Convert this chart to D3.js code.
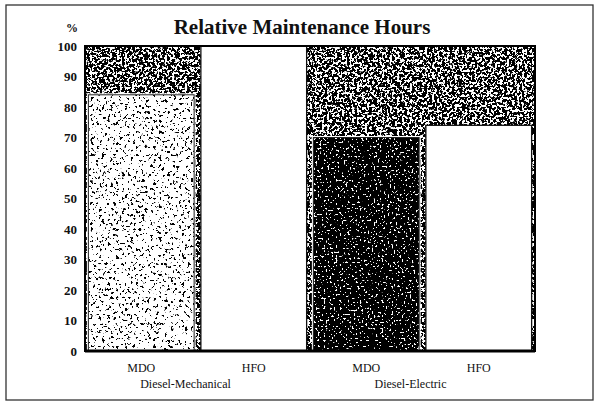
<!DOCTYPE html>
<html>
<head>
<meta charset="utf-8">
<script src="https://cdn.jsdelivr.net/npm/d3@7"></script>
<style>
  body { margin: 0; background: #fff; }
  text { font-family: "Liberation Serif", "DejaVu Serif", serif; fill: #111; }
</style>
</head>
<body>
<div id="chart"></div>
<script>
// chart values
const groups = ["Diesel-Mechanical", "Diesel-Electric"];
const fuels = ["MDO", "HFO"];
const reference = [100, 100];   // MDO reference level per group
const mdoValues = [84, 70];
const hfoValues = [100, 74];
const yTicks = [0, 10, 20, 30, 40, 50, 60, 70, 80, 90, 100];

const width = 600, height = 406;
const margin = { top: 46, right: 65, bottom: 55, left: 85 };

const svg = d3.select("#chart").append("svg")
    .attr("width", width)
    .attr("height", height);

// speckled fills made from noise, thresholded
const defs = svg.append("defs");
function makeStipple(id, threshold, freq, seed) {
    const f = defs.append("filter").attr("id", id)
        .attr("x", 0).attr("y", 0).attr("width", 1).attr("height", 1)
        .attr("filterUnits", "objectBoundingBox");
    f.append("feTurbulence").attr("type", "fractalNoise")
        .attr("baseFrequency", freq).attr("numOctaves", 3).attr("seed", seed).attr("result", "n");
    f.append("feColorMatrix").attr("in", "n").attr("type", "matrix")
        .attr("values", "0 0 0 0 0  0 0 0 0 0  0 0 0 0 0  1 0 0 0 0").attr("result", "a");
    const ct = f.append("feComponentTransfer").attr("in", "a").attr("result", "dots");
    ct.append("feFuncA").attr("type", "linear").attr("slope", 25).attr("intercept", -25 * threshold);
    f.append("feComposite").attr("in", "dots").attr("in2", "SourceAlpha").attr("operator", "in");
}
makeStipple("stipMid", 0.46, 0.4, 4);
makeStipple("stipLight", 0.62, 0.35, 7);
makeStipple("stipDark", 0.33, 0.5, 2);

const x0 = d3.scaleBand().domain(groups).range([margin.left, width - margin.right]).padding(0);
const x1 = d3.scaleBand().domain(fuels).range([0, x0.bandwidth()]).paddingInner(0.06).paddingOuter(0.03);
const y = d3.scaleLinear().domain([0, 100]).range([height - margin.bottom, margin.top]);

// outer frame
svg.append("rect")
    .attr("x", 6).attr("y", 5)
    .attr("width", width - 13).attr("height", height - 11)
    .attr("fill", "none").attr("stroke", "#333").attr("stroke-width", 1.3);

svg.append("text")
    .attr("x", 302).attr("y", 34)
    .attr("text-anchor", "middle")
    .attr("font-size", 21).attr("font-weight", "bold")
    .text("Relative Maintenance Hours");

svg.append("text")
    .attr("x", 72).attr("y", 32)
    .attr("text-anchor", "middle")
    .attr("font-size", 12).attr("font-weight", "bold")
    .text("%");

const g = svg.selectAll("g.group").data(groups).enter().append("g")
    .attr("class", "group")
    .attr("transform", d => `translate(${x0(d)},0)`);

// reference column (100 %)
g.append("rect")
    .attr("x", 0)
    .attr("y", (d, i) => y(reference[i]))
    .attr("width", x0.bandwidth())
    .attr("height", (d, i) => y(0) - y(reference[i]))
    .attr("fill", "#fff");
g.append("rect")
    .attr("x", 0)
    .attr("y", (d, i) => y(reference[i]))
    .attr("width", x0.bandwidth())
    .attr("height", (d, i) => y(0) - y(reference[i]))
    .attr("fill", "#000")
    .attr("filter", "url(#stipMid)");

// MDO bars
const mdoFill = ["stipLight", "stipDark"];
g.append("rect")
    .attr("x", x1("MDO"))
    .attr("y", (d, i) => y(mdoValues[i]))
    .attr("width", x1.bandwidth())
    .attr("height", (d, i) => y(0) - y(mdoValues[i]))
    .attr("fill", "#fff").attr("stroke", "#fff").attr("stroke-width", 3);
g.append("rect")
    .attr("x", x1("MDO"))
    .attr("y", (d, i) => y(mdoValues[i]))
    .attr("width", x1.bandwidth())
    .attr("height", (d, i) => y(0) - y(mdoValues[i]))
    .attr("fill", "#000")
    .attr("filter", (d, i) => `url(#${mdoFill[i]})`);
g.append("rect")
    .attr("x", x1("MDO"))
    .attr("y", (d, i) => y(mdoValues[i]))
    .attr("width", x1.bandwidth())
    .attr("height", (d, i) => y(0) - y(mdoValues[i]))
    .attr("fill", "none").attr("stroke", "#222").attr("stroke-width", 1);

// HFO bars
g.append("rect")
    .attr("x", x1("HFO"))
    .attr("y", (d, i) => y(hfoValues[i]))
    .attr("width", x1.bandwidth())
    .attr("height", (d, i) => y(0) - y(hfoValues[i]))
    .attr("fill", "#fff").attr("stroke", "#111").attr("stroke-width", 1.3);

// plot frame
svg.append("rect")
    .attr("x", margin.left).attr("y", margin.top)
    .attr("width", width - margin.left - margin.right)
    .attr("height", height - margin.top - margin.bottom)
    .attr("fill", "none").attr("stroke", "#000").attr("stroke-width", 2);
svg.append("line")
    .attr("x1", margin.left).attr("x2", width - margin.right)
    .attr("y1", y(0)).attr("y2", y(0))
    .attr("stroke", "#000").attr("stroke-width", 3);

// y axis
const yAxis = svg.append("g")
    .attr("transform", `translate(${margin.left - 8},0)`)
    .call(d3.axisLeft(y).tickValues(yTicks).tickSize(0).tickPadding(0));
yAxis.select(".domain").remove();
yAxis.selectAll("text")
    .attr("font-family", "Liberation Serif, serif")
    .attr("font-size", 13).attr("font-weight", "bold").attr("fill", "#111");

// category labels
g.selectAll("text.fuel").data(fuels).enter().append("text")
    .attr("class", "fuel")
    .attr("x", d => x1(d) + x1.bandwidth() / 2)
    .attr("y", 372)
    .attr("text-anchor", "middle")
    .attr("font-size", 12)
    .text(d => d);
g.append("text")
    .attr("x", x0.bandwidth() / 2 - 12)
    .attr("y", 388)
    .attr("text-anchor", "middle")
    .attr("font-size", 12)
    .text(d => d);
</script>
</body>
</html>
